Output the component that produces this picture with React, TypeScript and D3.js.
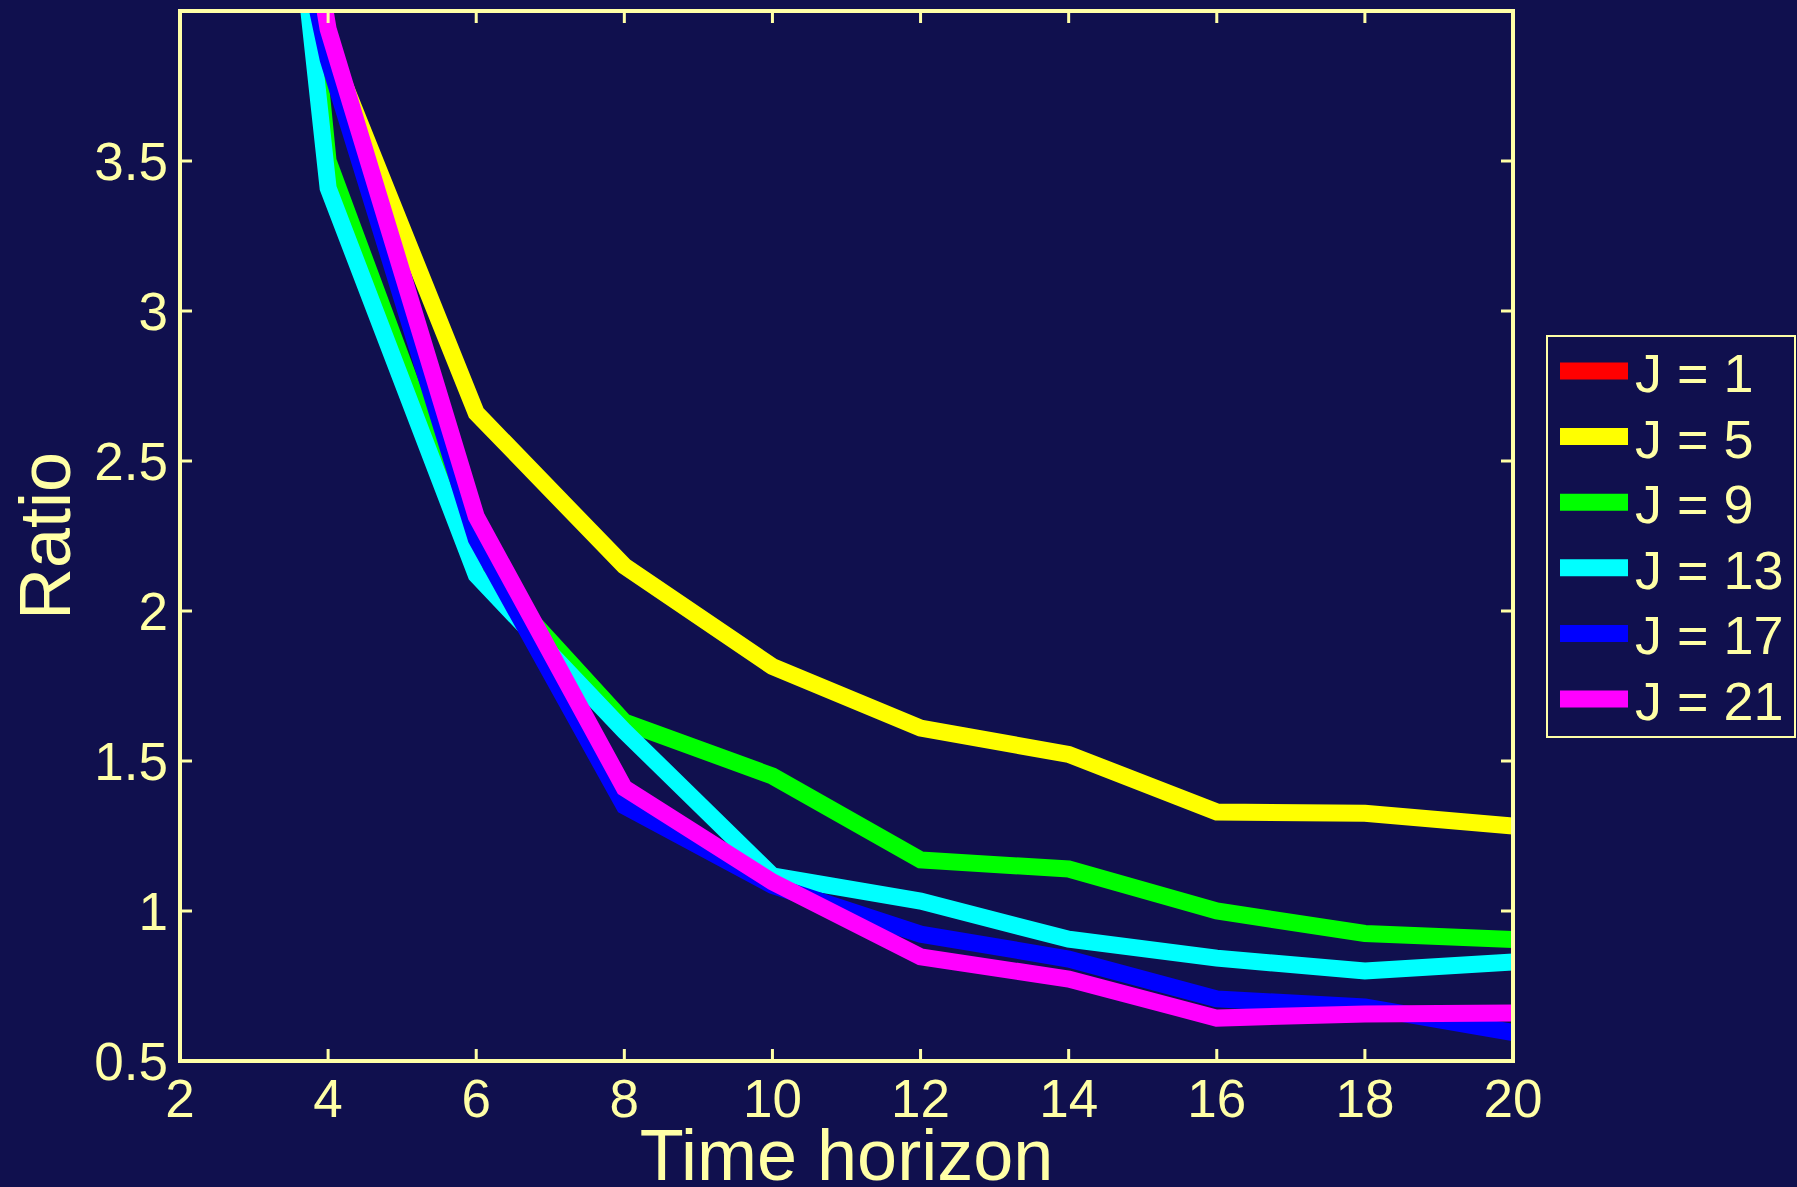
import React, { useEffect } from "react";
import * as d3 from "d3";

// Time horizon values on the x axis
const horizons = [2, 4, 6, 8, 10, 12, 14, 16, 18, 20];

// Ratio per series (J = 1 sits above the visible range)
const ratioJ1 = [12.0, 9.5, 8.0, 7.0, 6.4, 5.9, 5.5, 5.2, 4.9, 4.7];
const ratioJ5 = [8.3, 3.89, 2.66, 2.15, 1.815, 1.61, 1.522, 1.33, 1.326, 1.283];
const ratioJ9 = [8.5, 3.5, 2.17, 1.63, 1.45, 1.17, 1.14, 1.0, 0.925, 0.905];
const ratioJ13 = [7.95, 3.41, 2.12, 1.6, 1.117, 1.033, 0.906, 0.843, 0.8, 0.83];
const ratioJ17 = [6.13, 3.84, 2.24, 1.35, 1.085, 0.923, 0.84, 0.707, 0.68, 0.595];
const ratioJ21 = [6.9, 3.94, 2.315, 1.41, 1.097, 0.847, 0.773, 0.643, 0.657, 0.66];

const seriesNames = ["J = 1", "J = 5", "J = 9", "J = 13", "J = 17", "J = 21"];
const seriesValues = [ratioJ1, ratioJ5, ratioJ9, ratioJ13, ratioJ17, ratioJ21];
const seriesColors = ["#ff0000", "#ffff00", "#00ff00", "#00ffff", "#0000ff", "#ff00ff"];

const xTicks = [2, 4, 6, 8, 10, 12, 14, 16, 18, 20];
const yTicks = [0.5, 1, 1.5, 2, 2.5, 3, 3.5];

const W = 1797;
const H = 1187;
const BG = "#10104e";
const FG = "#ffffa6";
const FONT = "'Liberation Sans', Arial, Helvetica, sans-serif";

const plot = { left: 180, right: 1513, top: 11, bottom: 1061 };

export default function App() {
  useEffect(() => {
    document.body.style.margin = "0";
    document.body.style.background = BG;
  }, []);

  const x = d3.scaleLinear().domain([2, 20]).range([plot.left, plot.right]);
  const y = d3.scaleLinear().domain([0.5, 4]).range([plot.bottom, plot.top]);

  const line = d3
    .line<number>()
    .x((_, i) => x(horizons[i]))
    .y((d) => y(d));

  const tickLen = 12;

  return (
    <svg width={W} height={H} style={{ display: "block", background: BG }}>
      <rect x={0} y={0} width={W} height={H} fill={BG} />
      <defs>
        <clipPath id="plotClip">
          <rect
            x={plot.left}
            y={plot.top}
            width={plot.right - plot.left}
            height={plot.bottom - plot.top}
          />
        </clipPath>
      </defs>

      {/* data lines */}
      <g clipPath="url(#plotClip)">
        {seriesValues.map((vals, i) => (
          <path
            key={seriesNames[i]}
            d={line(vals) || ""}
            fill="none"
            stroke={seriesColors[i]}
            strokeWidth={17}
            strokeLinejoin="miter"
            strokeMiterlimit={10}
          />
        ))}
      </g>

      {/* axes box */}
      <rect
        x={plot.left}
        y={plot.top}
        width={plot.right - plot.left}
        height={plot.bottom - plot.top}
        fill="none"
        stroke={FG}
        strokeWidth={4}
      />

      {/* x ticks */}
      {xTicks.map((t) => (
        <g key={"x" + t}>
          <line x1={x(t)} x2={x(t)} y1={plot.bottom} y2={plot.bottom - tickLen} stroke={FG} strokeWidth={3} />
          <line x1={x(t)} x2={x(t)} y1={plot.top} y2={plot.top + tickLen} stroke={FG} strokeWidth={3} />
          <text
            x={x(t)}
            y={1117}
            textAnchor="middle"
            fill={FG}
            fontFamily={FONT}
            fontSize={53}
          >
            {t}
          </text>
        </g>
      ))}

      {/* y ticks */}
      {yTicks.map((t) => (
        <g key={"y" + t}>
          <line x1={plot.left} x2={plot.left + tickLen} y1={y(t)} y2={y(t)} stroke={FG} strokeWidth={3} />
          <line x1={plot.right} x2={plot.right - tickLen} y1={y(t)} y2={y(t)} stroke={FG} strokeWidth={3} />
          <text
            x={plot.left - 12}
            y={y(t) + 19}
            textAnchor="end"
            fill={FG}
            fontFamily={FONT}
            fontSize={53}
          >
            {t}
          </text>
        </g>
      ))}

      {/* axis titles */}
      <text
        x={(plot.left + plot.right) / 2}
        y={1180}
        textAnchor="middle"
        fill={FG}
        fontFamily={FONT}
        fontSize={72}
      >
        Time horizon
      </text>
      <text
        transform={`translate(70,${(plot.top + plot.bottom) / 2}) rotate(-90)`}
        textAnchor="middle"
        fill={FG}
        fontFamily={FONT}
        fontSize={72}
      >
        Ratio
      </text>

      {/* legend */}
      <g>
        <rect x={1547} y={336} width={248} height={401} fill={BG} stroke={FG} strokeWidth={2} />
        {seriesNames.map((name, i) => {
          const cy = 371 + i * 65.6;
          return (
            <g key={"lg" + name}>
              <line x1={1560} x2={1628} y1={cy} y2={cy} stroke={seriesColors[i]} strokeWidth={17} />
              <text x={1635} y={cy + 21} fill={FG} fontFamily={FONT} fontSize={54}>
                {name}
              </text>
            </g>
          );
        })}
      </g>
    </svg>
  );
}
